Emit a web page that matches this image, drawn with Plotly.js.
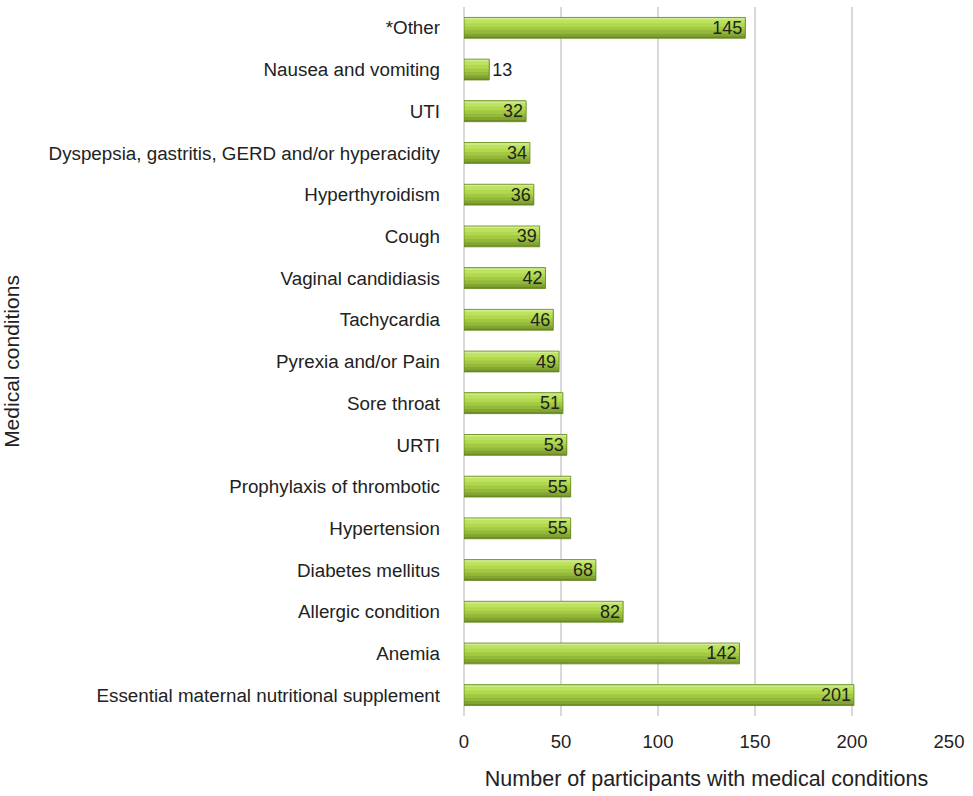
<!DOCTYPE html>
<html><head><meta charset="utf-8">
<script src="https://cdn.plot.ly/plotly-3.0.1.min.js"></script>
<style>html,body{margin:0;padding:0;background:#fff}</style>
</head><body>
<div id="chart" style="width:973px;height:796px"></div>
<script>
const conditions = ["*Other","Nausea and vomiting","UTI","Dyspepsia, gastritis, GERD and/or hyperacidity","Hyperthyroidism","Cough","Vaginal candidiasis","Tachycardia","Pyrexia and/or Pain","Sore throat","URTI","Prophylaxis of thrombotic","Hypertension","Diabetes mellitus","Allergic condition","Anemia","Essential maternal nutritional supplement"];
const participants = [145,13,32,34,36,39,42,46,49,51,53,55,55,68,82,142,201];
const xTicks = [0,50,100,150,200,250];

const FONT = 'Liberation Sans, Arial, sans-serif';
const BW = 0.5;

function layer(color, frac, top) {
  return {
    type: 'bar', orientation: 'h', x: participants, y: conditions,
    width: BW * frac, offset: -BW/2 + BW * (top || 0),
    marker: {color: color, line: {width: 0}},
    hoverinfo: 'skip'
  };
}

const traces = [
  layer('#6c8c24', 1.0),
  layer('#82a431', 0.92),
  layer('#93b93a', 0.78),
  layer('#a3c943', 0.62),
  layer('#b2d84f', 0.45),
  layer('#bde25e', 0.28),
  layer('#d2ec94', 0.1),
  {
    type: 'bar', orientation: 'h', x: participants, y: conditions,
    width: BW, offset: -BW/2,
    text: participants.map(String),
    textposition: participants.map(v => v < 20 ? 'outside' : 'inside'),
    insidetextanchor: 'end',
    textfont: {family: FONT, size: 18, color: '#222'},
    outsidetextfont: {family: FONT, size: 18, color: '#222'},
    insidetextfont: {family: FONT, size: 18, color: '#222'},
    constraintext: 'none',
    cliponaxis: false,
    marker: {color: 'rgba(0,0,0,0)', line: {color: '#668622', width: 0.8}},
    hoverinfo: 'x+y'
  }
];

const layout = {
  width: 973, height: 796,
  margin: {l: 464, r: 24, t: 7, b: 80},
  paper_bgcolor: '#fff', plot_bgcolor: '#fff',
  barmode: 'overlay',
  showlegend: false,
  font: {family: FONT, size: 18, color: '#222'},
  xaxis: {
    range: [0, 250], tickvals: xTicks, ticktext: xTicks.map(String),
    showgrid: true, gridcolor: '#d9d9d9', gridwidth: 1.5,
    zeroline: true, zerolinecolor: '#d9d9d9', zerolinewidth: 1.5,
    showline: false, ticks: '', ticklabelstandoff: 12,
    tickfont: {family: FONT, size: 18.5, color: '#222'},
    title: {text: 'Number of participants with medical conditions', font: {family: FONT, size: 21.5, color: '#222'}, standoff: 20}
  },
  yaxis: {
    autorange: 'reversed', type: 'category',
    showgrid: false, zeroline: false, showline: false, ticks: '',
    ticklabelstandoff: 23,
    tickfont: {family: FONT, size: 18.8, color: '#222'},
    title: {text: 'Medical conditions', font: {family: FONT, size: 21, color: '#222'}, standoff: 58}
  }
};

Plotly.newPlot('chart', traces, layout, {displayModeBar: false, staticPlot: true});
</script>
</body></html>
